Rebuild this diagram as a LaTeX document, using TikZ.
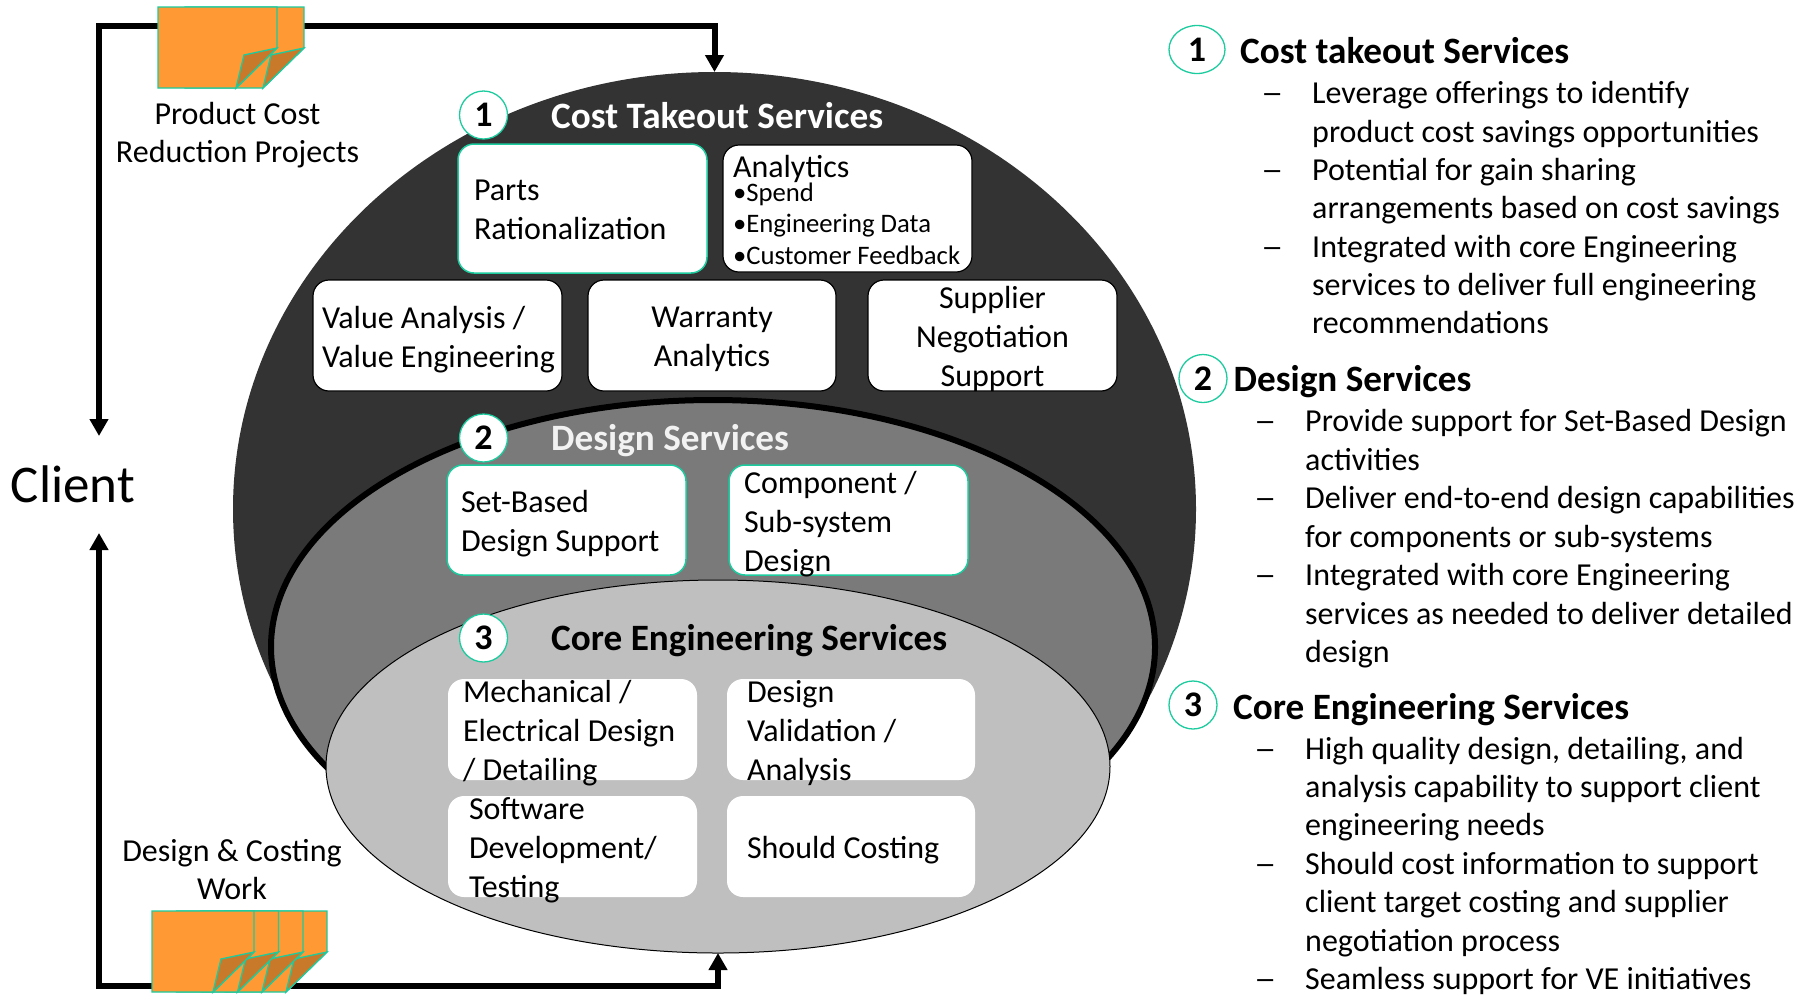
\documentclass[tikz,border=0pt]{standalone}
\usepackage{fontspec}
\setmainfont{Carlito}
\usetikzlibrary{shapes.geometric,arrows.meta}

\definecolor{tealline}{HTML}{1CCB9E}
\definecolor{noteorange}{HTML}{FF9933}
\definecolor{notefold}{HTML}{C87A2A}

\newcommand{\boxtext}[3][-10pt]{\smash{\raisebox{#1}{\parbox{#2}{\raggedright #3}}}}
\newcommand{\midtext}[2]{\smash{\raisebox{-10pt}{\parbox{#1}{\centering #2}}}}
\newcommand{\longdash}{\scalebox{1.4}[1]{--}}
\newcommand{\notepage}[3]{
  \draw[notesheet] (#1,#2) -- ++(#3,0) -- ++(0,41) -- ++(-41,40) -- ++(-#3+41,0) -- cycle;
  \draw[notecurl] (#1+#3-41,#2+81) -- (#1+#3-33,#2+48) -- (#1+#3,#2+41) -- cycle;
}

\tikzset{
  notesheet/.style={fill=noteorange,draw=tealline,line width=1.3pt},
  notecurl/.style={fill=notefold,draw=tealline,line width=1.3pt},
  flow/.style={line width=6pt,-{Triangle[length=17pt,width=18pt]}},
  ring/.style={ellipse,inner sep=0pt,outer sep=0pt},
  svcbox/.style={rectangle,rounded corners=16pt,fill=white,inner sep=0pt,outer sep=0pt,text=black,
    font=\fontsize{32}{39}\selectfont},
  tealbox/.style={svcbox,draw=tealline,line width=1.5pt},
  blackbox/.style={svcbox,draw=black,line width=1.2pt},
  badge/.style={circle,draw=tealline,fill=white,line width=1.3pt,minimum size=48pt,inner sep=0pt,
    font=\fontsize{36}{40}\bfseries\selectfont},
  headline/.style={anchor=base west,inner sep=0pt,font=\fontsize{37.2}{40}\bfseries\selectfont},
  sideline/.style={anchor=base west,inner sep=0pt,font=\fontsize{32}{38}\selectfont},
  caption/.style={align=center,inner sep=0pt,font=\fontsize{32}{38}\selectfont},
}

\begin{document}
\begin{tikzpicture}[x=1pt,y=-1pt]
  \useasboundingbox[fill=white] (0,0) rectangle (1811,1005);

  % nested service rings
  \node[ring,fill=black!80,minimum width=963pt,minimum height=874pt] (takeout) at (714.5,509) {};
  \node[ring,fill=black!52,draw=black,line width=6pt,minimum width=884pt,minimum height=494pt] (design) at (713,647) {};
  \node[ring,fill=black!25,draw=black,line width=1pt,minimum width=784pt,minimum height=373pt] (core) at (718,766.5) {};

  % client and the loops
  \node[inner sep=0pt,outer sep=0pt,minimum width=126pt,minimum height=97pt,font=\fontsize{53}{55}\selectfont] (client) at (73,484.5) {\raisebox{-1pt}{Client}};
  \coordinate (upleft) at (99,26);
  \coordinate (upright) at (304,26);
  \coordinate (upstart) at (158,26);
  \coordinate (lowleft) at (99,986);
  \coordinate (lowstart) at (152,986);
  \coordinate (lowright) at (286,986);
  \draw[flow] (upstart) -- (upleft) -- (client.north -| upleft);
  \draw[flow] (upright) -- (upright -| takeout.north) -- (takeout.north);
  \draw[flow] (lowstart) -- (lowleft) -- (client.south -| lowleft);
  \draw[flow] (lowright) -- (lowright -| core.south) -- (core.south);

  \notepage{185}{7}{119}
  \notepage{158}{7}{119}
  \foreach \xpos in {225,201,176.5,152}{
    \notepage{\xpos}{911}{102}
  }

  \node[caption] (reduction) at (237.5,135.5) {Product Cost\\Reduction Projects};
  \node[caption] (costing) at (232,869.5) {Design \& Costing\\Work};

  % cost takeout boxes
  \node[tealbox,minimum width=249pt,minimum height=129pt] (parts) at (582.5,208.5) {\boxtext[-8pt]{217pt}{Parts\\Rationalization}};
  \node[blackbox,minimum width=249pt,minimum height=127pt] (analytics) at (847.5,208.5)
    {\boxtext[-7.5pt]{229pt}{Analytics\\[-7.5pt]\fontsize{26.7}{31.5}\selectfont\textbullet Spend\\\textbullet Engineering Data\\\textbullet Customer Feedback}};
  \node[blackbox,minimum width=249pt,minimum height=111pt] (value) at (437.5,335.5) {\boxtext{231pt}{Value Analysis /\\\mbox{Value Engineering}}};
  \node[blackbox,minimum width=248pt,minimum height=111pt] (warranty) at (712,335.5) {\midtext{230pt}{Warranty\\Analytics}};
  \node[blackbox,minimum width=249pt,minimum height=111pt] (supplier) at (992.5,335.5) {\midtext{230pt}{Supplier\\Negotiation\\Support}};

  % design boxes
  \node[tealbox,minimum width=239pt,minimum height=110pt] (setbased) at (566.5,520) {\boxtext{211pt}{Set-Based\\Design Support}};
  \node[tealbox,minimum width=239pt,minimum height=110pt] (component) at (848.5,520) {\boxtext{209pt}{Component /\\Sub-system\\Design}};

  % core boxes
  \node[svcbox,minimum width=249pt,minimum height=101pt] (mech) at (572.5,729.5) {\boxtext{219pt}{Mechanical /\\Electrical Design\\/ Detailing}};
  \node[svcbox,minimum width=248pt,minimum height=101pt] (validation) at (851,729.5) {\boxtext{208pt}{Design\\Validation /\\Analysis}};
  \node[svcbox,minimum width=249pt,minimum height=101pt] (software) at (572.5,846.5) {\boxtext{207pt}{Software\\Development/\\Testing}};
  \node[svcbox,minimum width=248pt,minimum height=101pt] (shouldcost) at (851,846.5) {\boxtext{208pt}{Should Costing}};

  % ring titles
  \node[badge] (ringa) at (483.5,115) {1};
  \node[badge] (ringb) at (483.5,438) {2};
  \node[badge] (ringc) at (483.5,638) {3};
  \node[headline,text=white] (titlea) at (551,128.7) {Cost Takeout Services};
  \node[headline,text=black!5] (titleb) at (551,450.2) {Design Services};
  \node[headline] (titlec) at (551,650.2) {Core Engineering Services};

  % side list
  \node[badge,ellipse,minimum width=56pt] (sidea) at (1197,49.5) {1};
  \node[badge] (sideb) at (1203,378.5) {2};
  \node[badge] (sidec) at (1193,705) {3};
  \node[headline] (heada) at (1240,63.2) {Cost takeout Services};
  \node[headline] (headb) at (1233.5,391.2) {Design Services};
  \node[headline] (headc) at (1233,719.2) {Core Engineering Services};

  \foreach \idx/\ypos/\txt in {1/103.5/Leverage offerings to identify,
      2/142/product cost savings opportunities,
      3/180.5/Potential for gain sharing,
      4/218/arrangements based on cost savings,
      5/257.5/Integrated with core Engineering,
      6/295.5/services to deliver full engineering,
      7/333.5/recommendations}
    \node[sideline] (costline\idx) at (1312,\ypos) {\txt};
  \foreach \idx/\ypos in {1/103.5,2/180.5,3/257.5}
    \node[sideline] (costdash\idx) at (1261,\ypos) {\longdash};

  \foreach \idx/\ypos/\txt in {1/431/Provide support for Set-Based Design,
      2/470/activities,
      3/508/Deliver end-to-end design capabilities,
      4/547/for components or sub-systems,
      5/585/Integrated with core Engineering,
      6/624/services as needed to deliver detailed,
      7/662/design}
    \node[sideline] (designline\idx) at (1305,\ypos) {\txt};
  \foreach \idx/\ypos in {1/431,2/508,3/585}
    \node[sideline] (designdash\idx) at (1254,\ypos) {\longdash};

  \foreach \idx/\ypos/\txt in {1/759/{High quality design, detailing, and},
      2/797/analysis capability to support client,
      3/835/engineering needs,
      4/874/Should cost information to support,
      5/912/client target costing and supplier,
      6/951/negotiation process,
      7/989/Seamless support for VE initiatives}
    \node[sideline] (coreline\idx) at (1305,\ypos) {\txt};
  \foreach \idx/\ypos in {1/759,2/874,3/989}
    \node[sideline] (coredash\idx) at (1254,\ypos) {\longdash};
\end{tikzpicture}
\end{document}
